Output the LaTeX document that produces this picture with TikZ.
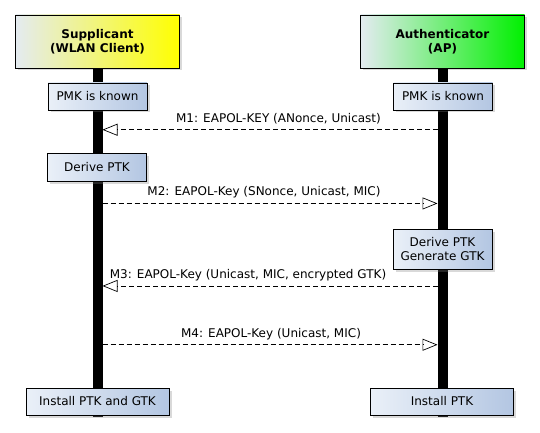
\documentclass[tikz,border=0pt]{standalone}
\usepackage{fontspec}
\setmainfont{DejaVu Sans}
\usetikzlibrary{calc,arrows.meta,shadows}
\definecolor{notelight}{HTML}{EAF0F8}
\definecolor{notedark}{HTML}{B3C6E2}
\definecolor{headlight}{HTML}{E4EBF1}
\definecolor{headgreen}{HTML}{00F000}
\def\mycolorl{black}
\def\mysize{\fontsize{12}{14}\selectfont}

\begin{document}
\begin{tikzpicture}[x=1pt,y=-1pt]
\tikzstyle{head}=[draw=black, line width=0.9pt, minimum width=164pt, minimum height=53pt, align=center, font=\mysize\bfseries, drop shadow={shadow xshift=2.5pt, shadow yshift=-2.5pt, opacity=0.3, fill=gray}]
\tikzstyle{note}=[draw=black, line width=0.8pt, left color=notelight, right color=notedark, minimum width=99pt, minimum height=27pt, align=center, font=\mysize, drop shadow={shadow xshift=2.5pt, shadow yshift=-2.5pt, opacity=0.3, fill=gray}]
\tikzstyle{life}=[line width=10pt, color=\mycolorl]
\tikzstyle{msg}=[line width=0.7pt, dash pattern=on 5pt off 3pt, -{Triangle[open, length=15pt, width=12pt, line width=0.7pt]}]
\tikzstyle{lbl}=[font=\mysize, inner sep=0pt]

\useasboundingbox (0,0) rectangle (540,433);

\node (supp) [head, left color=headlight, right color=yellow] at (97.5,41.5) {Supplicant\\(WLAN Client)};
\node (auth) [head, left color=headlight, right color=headgreen] at (442.5,41.5) {Authenticator\\(AP)};

\path (supp.south) + (0, 349) coordinate (suppend);
\path (auth.south) + (0, 349) coordinate (authend);

\draw [life] (supp.south) -- (suppend);
\draw [life] (auth.south) -- (authend);

\path (supp.south) + (5, 61.3) coordinate (s1);
\path (supp.south) + (5, 135) coordinate (s2);
\path (supp.south) + (5, 217.5) coordinate (s3);
\path (supp.south) + (5, 276.3) coordinate (s4);
\path (auth.south) + (-5, 61.3) coordinate (a1);
\path (auth.south) + (-5, 135) coordinate (a2);
\path (auth.south) + (-5, 217.5) coordinate (a3);
\path (auth.south) + (-5, 276.3) coordinate (a4);

\node (pmks) [note] at (97.5,96.5) {PMK is known};
\node (pmka) [note] at (443,96.5) {PMK is known};
\node (ders) [note, minimum height=28pt] at (97,167) {Derive PTK};
\node (dera) [note, minimum height=40pt] at (442.5,249) {Derive PTK\\Generate GTK};
\node (insts) [note, minimum width=143pt] at (97.5,401.5) {Install PTK and GTK};
\node (insta) [note, minimum width=143pt] at (442,401.5) {Install PTK};

\draw [msg] (a1) -- (s1);
\draw [msg] (s2) -- (a2);
\draw [msg] (a3) -- (s3);
\draw [msg] (s4) -- (a4);

\node (m1) [lbl] at (278.5,119) {M1: EAPOL-KEY (ANonce, Unicast)};
\node (m2) [lbl] at (264,192) {M2: EAPOL-Key (SNonce, Unicast, MIC)};
\node (m3) [lbl] at (248,275.5) {M3: EAPOL-Key (Unicast, MIC, encrypted GTK)};
\node (m4) [lbl] at (271,334) {M4: EAPOL-Key (Unicast, MIC)};

\end{tikzpicture}
\end{document}
